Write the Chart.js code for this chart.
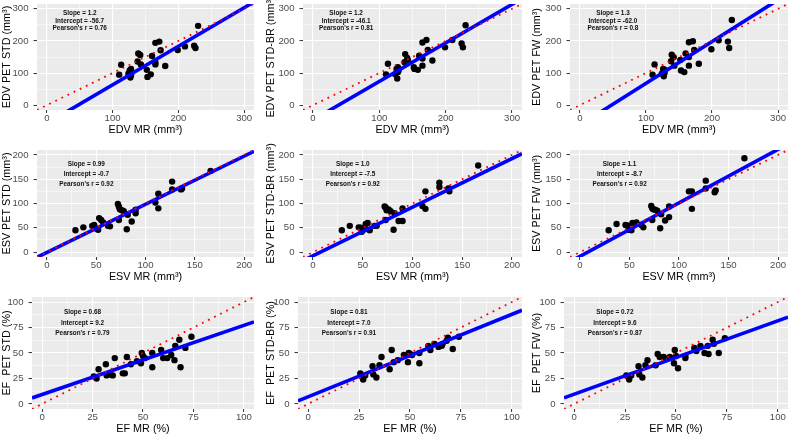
<!DOCTYPE html>
<html>
<head>
<meta charset="utf-8">
<script src="https://cdn.jsdelivr.net/npm/chart.js@4.4.0/dist/chart.umd.min.js"></script>
<style>
  html, body { margin: 0; padding: 0; background: #fff; }
  #grid { position: relative; width: 793px; height: 435px; overflow: hidden; }
  .panel { position: absolute; }
  .panel canvas { display: block; }
</style>
</head>
<body>
<div id="grid"></div>
<script>
// EDV (mm³): MR reference vs the three PET methods
const edvMr       = [110, 113, 124, 126, 128, 127, 128, 129, 139, 142, 138, 143, 152, 153, 158, 160, 165, 171, 165, 165, 173, 180, 199, 210, 224, 226, 230];
const edvPetStd   = [95, 126, 98, 108, 113, 86, 93, 103, 161, 156, 136, 127, 110, 88, 96, 153, 194, 198, 134, 127, 171, 122, 172, 183, 185, 178, 247];
const edvPetStdBr = [96, 129, 96, 113, 118, 83, 103, 108, 159, 147, 134, 140, 118, 113, 110, 154, 195, 203, 123, 145, 172, 139, 180, 203, 192, 180, 249];
const edvPetFw    = [95, 127, 98, 113, 105, 90, 100, 110, 157, 149, 137, 123, 141, 108, 103, 161, 196, 199, 123, 150, 172, 129, 174, 202, 198, 178, 265];

// ESV (mm³)
const esvMr       = [29, 37, 46, 48, 49, 52, 53, 55, 57, 62, 64, 72, 73, 74, 73, 76, 78, 82, 81, 86, 90, 90, 110, 113, 113, 127, 127, 136, 137, 166];
const esvPetStd   = [45, 51, 54, 56, 49, 46, 70, 66, 61, 54, 53, 99, 94, 88, 66, 86, 84, 77, 47, 63, 80, 87, 102, 120, 90, 145, 129, 129, 131, 167];
const esvPetStdBr = [45, 54, 51, 50, 42, 47, 58, 60, 45, 54, 54, 94, 92, 86, 66, 88, 84, 80, 46, 64, 64, 90, 95, 125, 89, 143, 134, 131, 125, 178];
const esvPetFw    = [45, 58, 56, 55, 46, 45, 60, 58, 61, 56, 51, 95, 90, 88, 66, 87, 85, 78, 49, 65, 72, 94, 125, 125, 89, 147, 131, 123, 127, 193];

// EF (%)
const efMr       = [25.6, 27, 28, 31.6, 32, 33.5, 35, 36, 40, 41, 42, 44, 47, 49, 49.4, 50, 51, 54.6, 54.6, 59, 60, 62, 64, 66, 65.6, 68, 68.6, 71, 74];
const efPetStd   = [27, 25, 34, 39, 28, 29, 28, 45, 30, 30, 46, 39, 42, 40, 50, 47, 45, 50, 36, 53, 45, 45, 48, 57, 43, 63, 36, 55, 66];
const efPetStdBr = [30, 24, 28, 37, 29, 26, 38, 46, 34, 53, 41, 43, 48, 41, 50, 49, 48, 40, 50, 57, 53, 59, 56, 59, 57, 62, 65, 54, 66];
const efPetFw    = [28, 24, 28, 37, 29, 26, 38, 43, 38, 49, 46, 46, 46, 40, 53, 47, 35, 45, 47, 55, 52, 57, 50, 49, 57, 63, 59, 50, 64.5];

// tick labels
const edvTicks = [0, 100, 200, 300];
const esvTicks = [0, 50, 100, 150, 200];
const efTicks  = [0, 25, 50, 75, 100];

// regression results printed in each panel
const edvSlope     = ['1.2', '1.2', '1.3'];
const edvIntercept = ['-56.7', '-46.1', '-62.0'];
const edvPearson   = ['0.76', '0.81', '0.8'];
const esvSlope     = ['0.99', '1.0', '1.1'];
const esvIntercept = ['-0.7', '-7.5', '-8.7'];
const esvPearson   = ['0.92', '0.92', '0.92'];
const efSlope      = ['0.68', '0.81', '0.72'];
const efIntercept  = ['9.2', '7.0', '9.6'];
const efPearson    = ['0.79', '0.91', '0.87'];

const edvYTitles = ['EDV PET STD (mm³)', 'EDV PET STD-BR (mm³)', 'EDV PET FW (mm³)'];
const esvYTitles = ['ESV PET STD (mm³)', 'ESV PET STD-BR (mm³)', 'ESV PET FW (mm³)'];
const efYTitles  = ['EF  PET STD (%)', 'EF  PET STD-BR (%)', 'EF  PET FW (%)'];

const rows = [
    { xTitle: 'EDV MR (mm³)', yTitles: edvYTitles, mr: edvMr, pet: [edvPetStd, edvPetStdBr, edvPetFw], ticks: edvTicks,
      slope: edvSlope, intercept: edvIntercept, r: edvPearson, textX: 50, textY: [287, 262, 239] },
    { xTitle: 'ESV MR (mm³)', yTitles: esvYTitles, mr: esvMr, pet: [esvPetStd, esvPetStdBr, esvPetFw], ticks: esvTicks,
      slope: esvSlope, intercept: esvIntercept, r: esvPearson, textX: 40, textY: [181, 161, 140] },
    { xTitle: 'EF MR (%)', yTitles: efYTitles, mr: efMr, pet: [efPetStd, efPetStdBr, efPetFw], ticks: efTicks,
      slope: efSlope, intercept: efIntercept, r: efPearson, textX: 20, textY: [90, 79, 69] }
];

// page geometry
const colLeft = [0, 264, 530];
const colRight = [258, 526, 792];
const axisWidth = [[37, 39, 40], [37, 39, 40], [32, 34, 34]];
const rowTop = [0, 143, 290];
const plotTop = [3, 150, 297];
const plotBottom = [110, 257, 409];
const X_AXIS_H = 27;

Chart.defaults.font.family = '"Liberation Sans", Arial, sans-serif';

const panelBg = {
    id: 'panelBg',
    beforeDraw(chart) {
        const { ctx, chartArea: a } = chart;
        ctx.save();
        ctx.fillStyle = '#EBEBEB';
        ctx.fillRect(a.left, a.top, a.width, a.height);
        ctx.restore();
    }
};

const statsText = {
    id: 'statsText',
    afterDatasetsDraw(chart, args, opts) {
        const { ctx, scales: { x, y } } = chart;
        ctx.save();
        ctx.font = 'bold 6.4px "Liberation Sans", Arial, sans-serif';
        ctx.fillStyle = '#111';
        ctx.textAlign = 'center';
        ctx.textBaseline = 'middle';
        opts.lines.forEach((t, i) => ctx.fillText(t, x.getPixelForValue(opts.x), y.getPixelForValue(opts.ys[i])));
        ctx.restore();
    }
};

const grid = document.getElementById('grid');

rows.forEach((row, r) => {
    const first = row.ticks[0];
    const last = row.ticks[row.ticks.length - 1];
    const lo = first - (last - first) * 0.05;
    const hi = last + (last - first) * 0.05;
    // minor grid lines half way between labelled ones
    const minor = row.ticks.slice(1).map((t, i) => (t + row.ticks[i]) / 2);
    const gridValues = [...row.ticks, ...minor].sort((a, b) => a - b);
    const isMajor = v => row.ticks.includes(v);

    const axis = (title, tickLen, pad, fit) => ({
        type: 'linear',
        min: lo,
        max: hi,
        bounds: 'data',
        border: { display: false },
        grid: {
            color: '#FFFFFF',
            lineWidth: ctx => ctx.tick && isMajor(ctx.tick.value) ? 1.1 : 0.5,
            tickColor: ctx => ctx.tick && isMajor(ctx.tick.value) ? '#333333' : 'rgba(0,0,0,0)',
            tickWidth: 1,
            tickLength: tickLen
        },
        ticks: {
            autoSkip: false,
            maxRotation: 0,
            padding: pad,
            color: '#4D4D4D',
            font: { size: 9.6 },
            callback: v => isMajor(v) ? String(v) : ''
        },
        title: { display: true, text: title, color: '#000', font: { size: 10.8 }, padding: { top: 1, bottom: 0 } },
        afterBuildTicks: s => { s.ticks = gridValues.map(v => ({ value: v })); },
        afterFit: fit
    });

    row.pet.forEach((pet, c) => {
        const w = colRight[c] - colLeft[c];
        const h = plotBottom[r] + X_AXIS_H - rowTop[r];
        const box = document.createElement('div');
        box.className = 'panel';
        box.style.left = `${colLeft[c]}px`;
        box.style.top = `${rowTop[r]}px`;
        box.style.width = `${w}px`;
        box.style.height = `${h}px`;
        const canvas = document.createElement('canvas');
        canvas.width = w;
        canvas.height = h;
        box.appendChild(canvas);
        grid.appendChild(box);

        const slope = Number(row.slope[c]);
        const icpt = Number(row.intercept[c]);

        new Chart(canvas, {
            type: 'scatter',
            data: {
                datasets: [
                    {
                        label: 'identity',
                        data: [{ x: lo, y: lo }, { x: hi, y: hi }],
                        showLine: true,
                        borderColor: '#FF0000',
                        borderWidth: 1.8,
                        borderDash: [1.8, 5],
                        pointRadius: 0,
                        clip: 0
                    },
                    {
                        label: 'fit',
                        data: [{ x: lo, y: slope * lo + icpt }, { x: hi, y: slope * hi + icpt }],
                        showLine: true,
                        borderColor: '#0000FF',
                        borderWidth: 3.6,
                        pointRadius: 0,
                        clip: 0
                    },
                    {
                        label: 'subjects',
                        data: row.mr.map((x, i) => ({ x, y: pet[i] })),
                        pointRadius: 3.2,
                        pointBackgroundColor: '#000',
                        pointBorderWidth: 0
                    }
                ]
            },
            options: {
                responsive: false,
                animation: false,
                events: [],
                layout: { padding: { top: plotTop[r] - rowTop[r], left: 0, right: 0, bottom: 0 } },
                plugins: {
                    legend: { display: false },
                    tooltip: { enabled: false },
                    statsText: {
                        x: row.textX,
                        ys: row.textY,
                        lines: [`Slope = ${row.slope[c]}`, `Intercept = ${row.intercept[c]}`, `Pearson's r = ${row.r[c]}`]
                    }
                },
                scales: {
                    x: axis(row.xTitle, 3, 0, s => { s.height = X_AXIS_H; s.paddingLeft = 0; s.paddingRight = 0; }),
                    y: axis(row.yTitles[c], 3.5, 5, s => { s.width = axisWidth[r][c]; s.paddingTop = 0; s.paddingBottom = 0; })
                }
            },
            plugins: [panelBg, statsText]
        });
    });
});
</script>
</body>
</html>
